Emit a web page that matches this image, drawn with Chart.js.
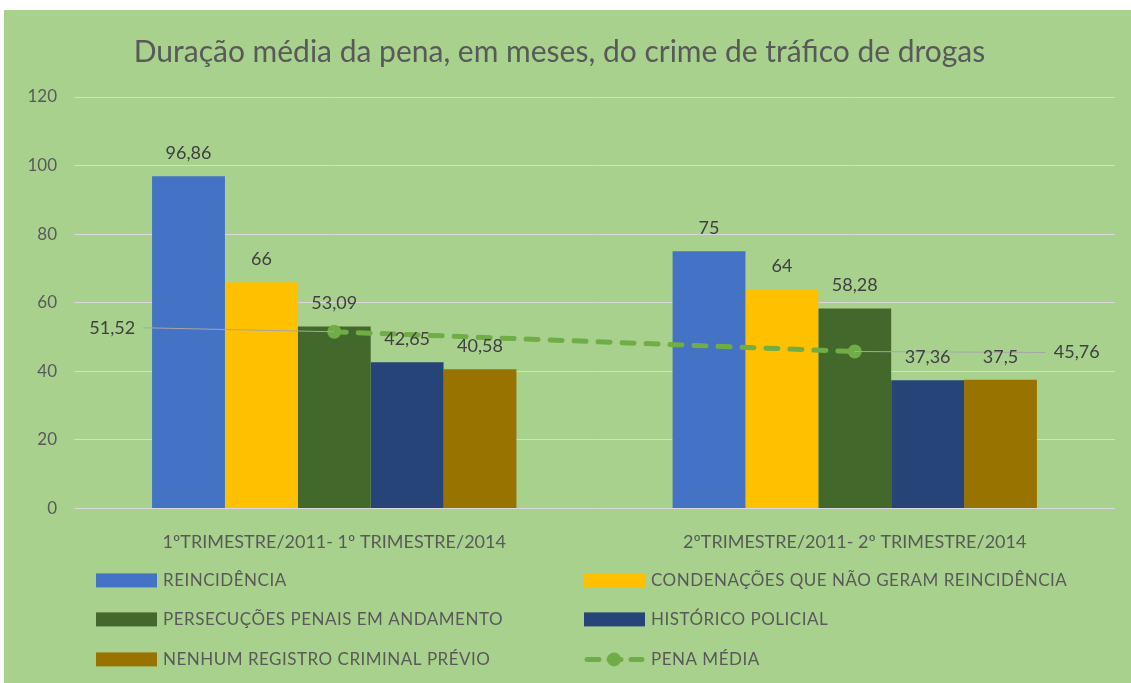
<!DOCTYPE html>
<html>
<head>
<meta charset="utf-8">
<script src="https://cdn.jsdelivr.net/npm/chart.js@4.4.1/dist/chart.umd.min.js"></script>
<style>
  html, body { margin: 0; padding: 0; background: #fff; }
  #moldura { position: absolute; left: 4px; top: 10px; width: 1127px; height: 673px; background: #a9d18e; }
</style>
</head>
<body>
<div id="moldura"><canvas id="grafico-pena"></canvas></div>
<script>
// dados
const categorias = ['1ºTRIMESTRE/2011- 1º TRIMESTRE/2014', '2ºTRIMESTRE/2011- 2º TRIMESTRE/2014'];
const reincidencia = [96.86, 75];
const condenacoes = [66, 64];
const persecucoes = [53.09, 58.28];
const historicoPolicial = [42.65, 37.36];
const nenhumRegistro = [40.58, 37.5];
const penaMedia = [51.52, 45.76];
const ticksY = [0, 20, 40, 60, 80, 100, 120];

const FONTE = 'Lato, "Liberation Sans", sans-serif';
const fmt = v => String(v).replace('.', ',');

// rótulos das barras e da linha
const rotulos = {
  id: 'rotulos',
  afterDatasetsDraw(chart) {
    const ctx = chart.ctx;
    ctx.save();
    ctx.font = '18px ' + FONTE;
    ctx.fillStyle = '#404040';
    ctx.textAlign = 'center';
    ctx.textBaseline = 'middle';
    chart.data.datasets.forEach((ds, i) => {
      const meta = chart.getDatasetMeta(i);
      if (ds.type === 'line') {
        meta.data.forEach((pt, j) => {
          const lado = j === 0 ? -1 : 1;
          const ly = j === 0 ? pt.y - 4 : pt.y + 1;
          ctx.strokeStyle = '#a6a6a6';
          ctx.lineWidth = 1;
          ctx.beginPath();
          ctx.moveTo(pt.x, pt.y);
          ctx.lineTo(pt.x + lado * 191, ly);
          ctx.stroke();
          ctx.fillText(fmt(ds.data[j]), pt.x + lado * 222, ly);
        });
      } else {
        meta.data.forEach((bar, j) => {
          ctx.fillText(fmt(ds.data[j]), bar.x, bar.y - 23);
        });
      }
    });
    ctx.restore();
  }
};

// legenda em duas colunas
const legenda = {
  id: 'legenda',
  afterDraw(chart) {
    const ctx = chart.ctx;
    const a = chart.chartArea;
    const cols = [a.left + 22, a.left + 510];
    const linhas = [a.bottom + 72, a.bottom + 111, a.bottom + 151];
    const ordem = [1, 2, 3, 4, 5, 0];
    ctx.save();
    ctx.font = '17px ' + FONTE;
    ctx.letterSpacing = '0.5px';
    ctx.textBaseline = 'middle';
    ordem.forEach((idx, k) => {
      const ds = chart.data.datasets[idx];
      const x = cols[k % 2];
      const y = linhas[Math.floor(k / 2)];
      if (ds.type === 'line') {
        ctx.strokeStyle = ds.borderColor;
        ctx.lineWidth = 5;
        ctx.lineCap = 'round';
        ctx.setLineDash([12, 10]);
        ctx.beginPath();
        ctx.moveTo(x + 3, y);
        ctx.lineTo(x + 58, y);
        ctx.stroke();
        ctx.setLineDash([]);
        ctx.fillStyle = ds.borderColor;
        ctx.beginPath();
        ctx.arc(x + 30, y, 7, 0, Math.PI * 2);
        ctx.fill();
      } else {
        ctx.fillStyle = ds.backgroundColor;
        ctx.fillRect(x, y - 7, 61, 14);
      }
      ctx.fillStyle = '#595959';
      ctx.fillText(ds.label, x + 67, y);
    });
    ctx.restore();
  }
};

const ctx = document.getElementById('grafico-pena').getContext('2d');
const grafico = new Chart(ctx, {
  data: {
    labels: categorias,
    datasets: [
      { type: 'line', label: 'PENA MÉDIA', data: penaMedia, order: 0,
        borderColor: '#70ad47', backgroundColor: '#70ad47', borderWidth: 5,
        borderDash: [12, 12], borderCapStyle: 'round',
        pointRadius: 7, pointBackgroundColor: '#70ad47', pointBorderWidth: 0 },
      { type: 'bar', label: 'REINCIDÊNCIA', data: reincidencia, backgroundColor: '#4472c4', order: 1 },
      { type: 'bar', label: 'CONDENAÇÕES QUE NÃO GERAM REINCIDÊNCIA', data: condenacoes, backgroundColor: '#ffc000', order: 1 },
      { type: 'bar', label: 'PERSECUÇÕES PENAIS EM ANDAMENTO', data: persecucoes, backgroundColor: '#43682b', order: 1 },
      { type: 'bar', label: 'HISTÓRICO POLICIAL', data: historicoPolicial, backgroundColor: '#264478', order: 1 },
      { type: 'bar', label: 'NENHUM REGISTRO CRIMINAL PRÉVIO', data: nenhumRegistro, backgroundColor: '#997300', order: 1 }
    ]
  },
  options: {
    responsive: true,
    maintainAspectRatio: false,
    animation: false,
    datasets: { bar: { categoryPercentage: 0.7, barPercentage: 1.0 } },
    layout: { padding: { top: 2, right: 16, bottom: 115, left: 0 } },
    plugins: {
      legend: { display: false },
      tooltip: { enabled: false },
      title: {
        display: true,
        text: 'Duração média da pena, em meses, do crime de tráfico de drogas',
        color: '#595959',
        font: { family: FONTE, size: 30, weight: 'normal' },
        padding: { top: 22, bottom: 27 }
      }
    },
    scales: {
      x: {
        grid: { display: false },
        border: { display: false },
        ticks: { color: '#595959', font: { family: FONTE, size: 18 }, padding: 15 }
      },
      y: {
        min: 0, max: 120,
        afterFit(s) { s.width = 70; },
        afterBuildTicks(s) { s.ticks = ticksY.map(v => ({ value: v })); },
        grid: { color: '#d9d9d9', lineWidth: 1, drawTicks: false },
        border: { display: false },
        ticks: { color: '#595959', font: { family: FONTE, size: 17 }, padding: 17 }
      }
    }
  },
  plugins: [rotulos, legenda]
});
</script>
</body>
</html>
